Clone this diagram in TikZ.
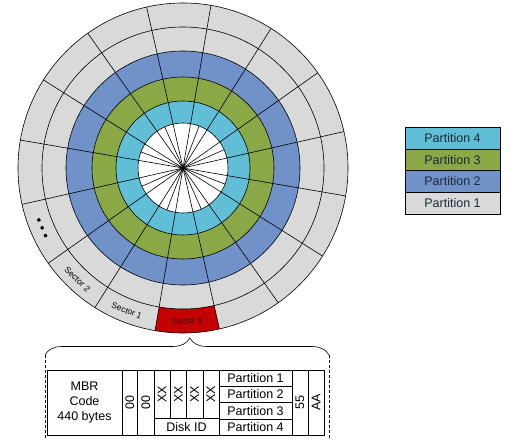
\documentclass[tikz,border=0pt]{standalone}
\usepackage{fontspec}
\setmainfont{Liberation Sans}
\usepackage{tikz}
\usetikzlibrary{decorations.pathreplacing, positioning}
\definecolor{partgray}{RGB}{217, 217, 217}
\definecolor{partblue}{RGB}{112, 146, 200}
\definecolor{partgreen}{RGB}{138, 168, 70}
\definecolor{partcyan}{RGB}{96, 190, 214}
\definecolor{sectred}{RGB}{196, 0, 0}
\definecolor{textnavy}{RGB}{30, 40, 60}

\tikzset{
  cell/.style={draw, thin, inner sep=0pt, outer sep=0pt, font=\fontsize{12.5}{15}\selectfont, align=center},
  legendbox/.style={draw, thin, inner sep=0pt, outer sep=0pt, minimum width=95pt, minimum height=21.75pt,
    font=\fontsize{12.5}{15}\selectfont, text=textnavy},
  sectlabel/.style={font=\fontsize{8.5}{9}\selectfont, inner sep=0pt},
}

\begin{document}
\begin{tikzpicture}[x=1pt, y=1pt, line width=0.6pt]
\useasboundingbox (0,0) rectangle (521,439);
\coordinate (C) at (183,271);

% Disk tracks
\fill[partgray] (C) circle (165);
\fill[partblue] (C) circle (117);
\fill[partgreen] (C) circle (91);
\fill[partcyan] (C) circle (67);
\fill[white] (C) circle (45);

% Sector 0
\fill[sectred] ([shift={(C)}]-99.75:165) arc[start angle=-99.75, end angle=-77.25, radius=165]
  -- ([shift={(C)}]-77.25:141) arc[start angle=-77.25, end angle=-99.75, radius=141] -- cycle;

\foreach \r in {45,67,91,117,141,165}
  \draw (C) circle (\r);
\foreach \k in {0,...,15}
  \draw (C) -- ++(12.75+22.5*\k:165);
\foreach \k in {0,...,7}
  \draw (C) -- ++(24+45*\k:45);

% Sector labels
\node[sectlabel, rotate=1.5, text=black!80!red] (sect0) at ([shift={(C)}]-88.5:153) {Sector 0};
\node[sectlabel, rotate=-21.5] (sect1) at ([shift={(C)}]-111.5:153.5) {Sector 1};
\node[sectlabel, rotate=-43.5] (sect2) at ([shift={(C)}]-133.5:153.5) {Sector 2};
\node[sectlabel, rotate=-67] (more) at ([shift={(C)}]-157:153)
  {\rule{3pt}{3pt}\hspace{5.5pt}\rule{3pt}{3pt}\hspace{5.5pt}\rule{3pt}{3pt}};

% Legend
\node[legendbox, fill=partcyan] (leg4) at (452.5,301.1) {Partition 4};
\node[legendbox, fill=partgreen, below=0pt of leg4] (leg3) {Partition 3};
\node[legendbox, fill=partblue, below=0pt of leg3] (leg2) {Partition 2};
\node[legendbox, fill=partgray, below=0pt of leg2] (leg1) {Partition 1};

% Brace to the MBR layout
\coordinate (bl) at (45,84);
\coordinate (br) at (329,84);
\coordinate (bl-end) at (45,0);
\coordinate (br-end) at (329,0);
\draw[decorate, decoration={brace, amplitude=17pt, aspect=0.51}] (bl) -- (br);
\draw[densely dashed, thin] (bl) -- (bl-end);
\draw[densely dashed, thin] (br) -- (br-end);

% MBR layout
\node[cell, minimum width=75pt, minimum height=65pt] (mbr) at (84.5,36.5) {MBR\\Code\\440 bytes};
\node[cell, minimum width=15.5pt, minimum height=65pt, right=0pt of mbr] (z1) {\rotatebox{90}{00}};
\node[cell, minimum width=16.5pt, minimum height=65pt, right=0pt of z1] (z2) {\rotatebox{90}{00}};
\node[cell, minimum width=16.25pt, minimum height=48.5pt, anchor=north west] (xx1) at (z2.north east) {\rotatebox{90}{XX}};
\node[cell, minimum width=16.25pt, minimum height=48.5pt, right=0pt of xx1] (xx2) {\rotatebox{90}{XX}};
\node[cell, minimum width=16.25pt, minimum height=48.5pt, right=0pt of xx2] (xx3) {\rotatebox{90}{XX}};
\node[cell, minimum width=16.25pt, minimum height=48.5pt, right=0pt of xx3] (xx4) {\rotatebox{90}{XX}};
\node[cell, minimum width=65pt, minimum height=16.5pt, anchor=north west] (diskid) at (xx1.south west) {Disk ID};
\node[cell, minimum width=73pt, minimum height=16.25pt, anchor=north west] (p1) at (xx4.north east) {Partition 1};
\node[cell, minimum width=73pt, minimum height=16.25pt, below=0pt of p1] (p2) {Partition 2};
\node[cell, minimum width=73pt, minimum height=16.25pt, below=0pt of p2] (p3) {Partition 3};
\node[cell, minimum width=73pt, minimum height=16.25pt, below=0pt of p3] (p4) {Partition 4};
\node[cell, minimum width=16pt, minimum height=65pt, anchor=north west] (b55) at (p1.north east) {\rotatebox{90}{55}};
\node[cell, minimum width=16pt, minimum height=65pt, right=0pt of b55] (bAA) {\rotatebox{90}{AA}};
\end{tikzpicture}
\end{document}
